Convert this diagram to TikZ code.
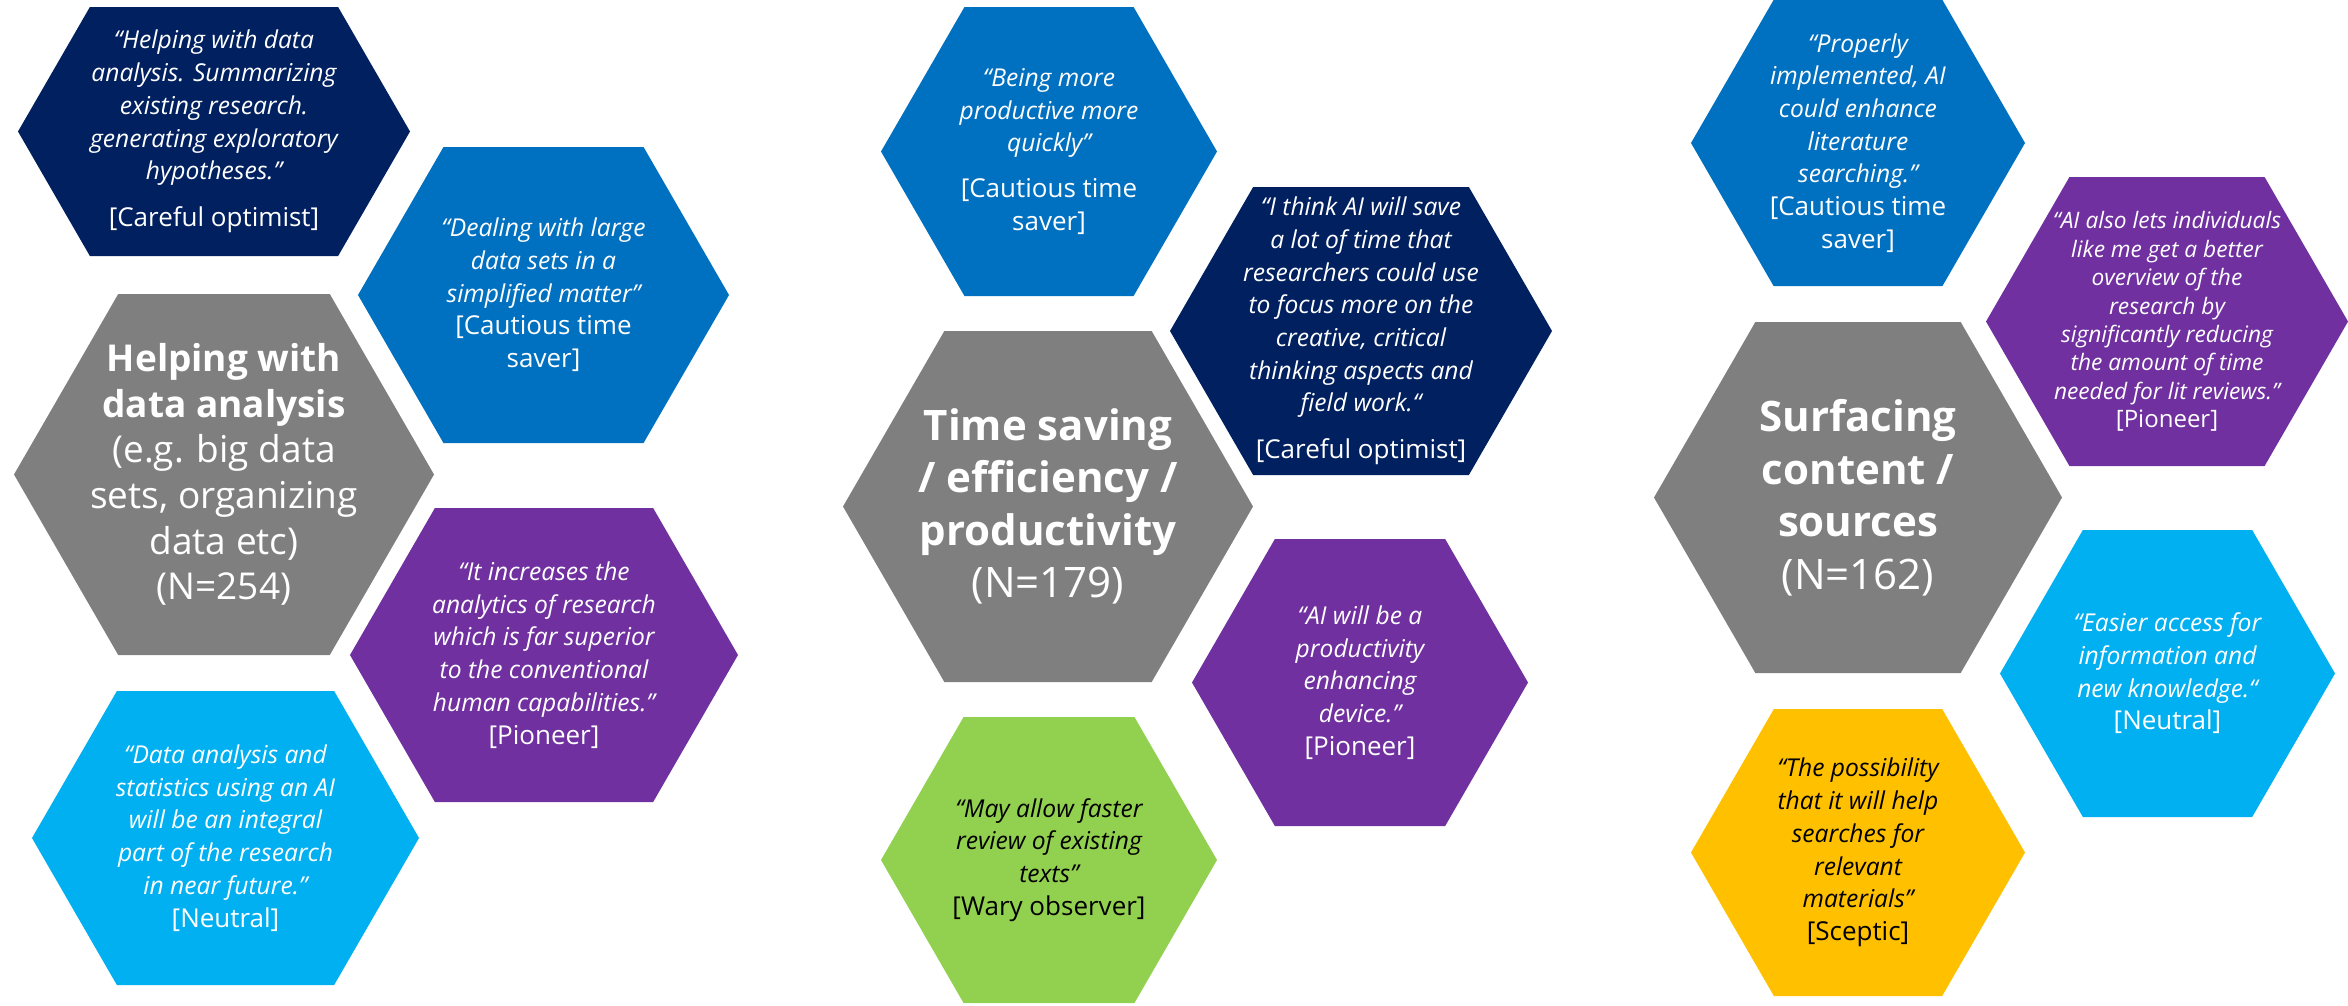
\documentclass[tikz,border=0pt]{standalone}
\usepackage{fontspec}
\setmainfont{Open Sans}
\usepackage{tikz}

\definecolor{navy}{HTML}{002060}
\definecolor{midblue}{HTML}{0070C0}
\definecolor{cellgrey}{HTML}{7F7F7F}
\definecolor{plum}{HTML}{7030A0}
\definecolor{sky}{HTML}{00B0F0}
\definecolor{lime}{HTML}{92D050}
\definecolor{amber}{HTML}{FFC000}

\newcommand\lblfont{\fontsize{26}{32}\selectfont\upshape}
\newcommand\persona[1]{{\lblfont[#1]}}
% #1 name, #2 centre, #3 half width, #4 half height, #5 fill, #6 text style, #7 text
\newcommand\hexcell[7]{
  \fill[#5] (#2) ++(-#3,0) -- ++({0.5774*#4},{-#4}) -- ++({2*#3-1.1547*#4},0)
        -- ++({0.5774*#4},{#4}) -- ++({-0.5774*#4},{#4}) -- ++({-2*#3+1.1547*#4},0) -- cycle;
  \node[#6] (#1) at (#2) {#7};
}

\begin{document}
\begin{tikzpicture}[x=1pt,y=-1pt,
  quote/.style={align=center,text=white,font=\fontsize{24.6}{32.7}\selectfont\itshape},
  smallquote/.style={quote,font=\fontsize{22.7}{28.4}\selectfont\itshape},
  darkquote/.style={quote,text=black},
  theme/.style={align=center,text=white,font=\fontsize{37}{45.7}\selectfont},
  bigtheme/.style={theme,font=\fontsize{42}{52.5}\selectfont}]
\useasboundingbox (0,0) rectangle (2348,1005);

\hexcell{analysisA}{214,131.5}{196}{124.5}{navy}{quote}{“Helping with data\\ analysis. Summarizing\\ existing research.\\ generating exploratory\\ hypotheses.”\\[14pt] \persona{Careful optimist}}
\hexcell{analysisB}{543.5,295}{185.5}{148}{midblue}{quote}{“Dealing with large\\ data sets in a\\ simplified matter”\\ \lblfont[Cautious time\\ \lblfont saver]}
\hexcell{analysis}{224,474.5}{210}{180.5}{cellgrey}{theme}{\textbf{Helping with}\\ \textbf{data analysis}\\ (e.g. big data\\ sets, organizing\\ data etc)\\ (N=254)}
\hexcell{analysisC}{544,655}{194}{147}{plum}{quote}{“It increases the\\ analytics of research\\ which is far superior\\ to the conventional\\ human capabilities.”\\ \persona{Pioneer}}
\hexcell{analysisD}{225.5,838}{193.5}{147}{sky}{quote}{“Data analysis and\\ statistics using an AI\\ will be an integral\\ part of the research\\ in near future.”\\ \persona{Neutral}}

\hexcell{timeA}{1049,151.5}{168}{144.5}{midblue}{quote}{“Being more\\ productive more\\ quickly”\\[13pt] \lblfont[Cautious time\\ \lblfont saver]}
\hexcell{timeB}{1361,331}{191}{144}{navy}{quote}{“I think AI will save\\ a lot of time that\\ researchers could use\\ to focus more on the\\ creative, critical\\ thinking aspects and\\ field work.“\\[14pt] \persona{Careful optimist}}
\hexcell{time}{1048,506.5}{205}{175.5}{cellgrey}{bigtheme}{\textbf{Time saving}\\ \textbf{/ efficiency /}\\ \textbf{productivity}\\ (N=179)}
\hexcell{timeC}{1360,682.5}{168}{143.5}{plum}{quote}{“AI will be a\\ productivity\\ enhancing\\ device.”\\ \persona{Pioneer}}
\hexcell{timeD}{1049,860}{168}{143}{lime}{darkquote}{“May allow faster\\ review of existing\\ texts”\\ \persona{Wary observer}}

\hexcell{sourceA}{1858,143}{167}{143}{midblue}{quote}{“Properly\\ implemented, AI\\ could enhance\\ literature\\ searching.”\\ \lblfont[Cautious time\\ \lblfont saver]}
\hexcell{sourceB}{2167,321.5}{181}{144.5}{plum}{smallquote}{“AI also lets individuals\\ like me get a better\\ overview of the\\ research by\\ significantly reducing\\ the amount of time\\ needed for lit reviews.”\\ {\fontsize{24}{30}\selectfont\upshape[Pioneer]}}
\hexcell{source}{1858,497.5}{204}{175.5}{cellgrey}{bigtheme}{\textbf{Surfacing}\\ \textbf{content /}\\ \textbf{sources}\\ (N=162)}
\hexcell{sourceC}{2167.5,673.5}{167.5}{143.5}{sky}{quote}{“Easier access for\\ information and\\ new knowledge.“\\ \persona{Neutral}}
\hexcell{sourceD}{1858,852.5}{167}{143.5}{amber}{darkquote}{“The possibility\\ that it will help\\ searches for\\ relevant\\ materials”\\ \persona{Sceptic}}
\end{tikzpicture}
\end{document}
